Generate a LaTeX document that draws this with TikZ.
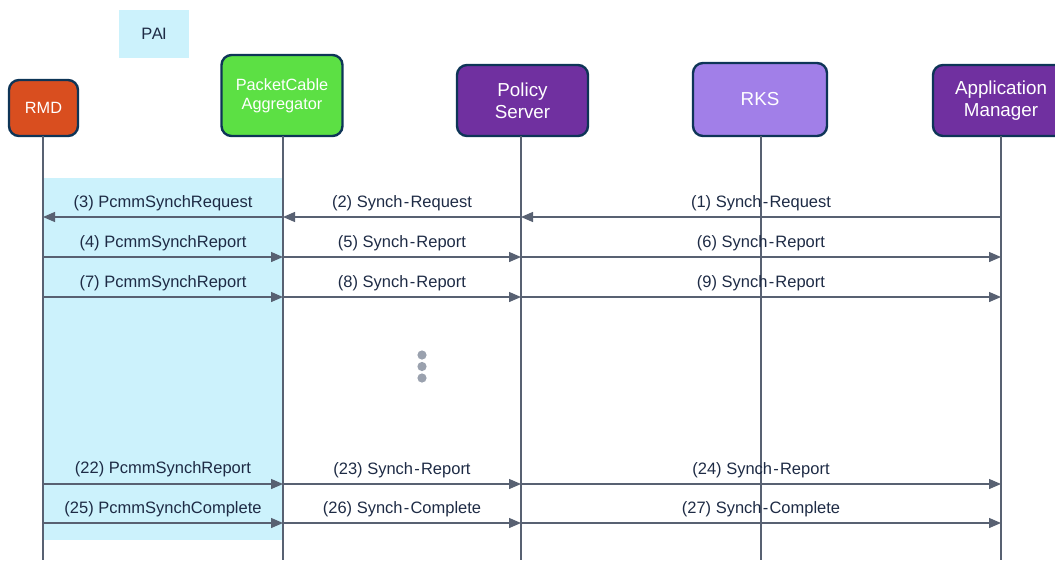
\documentclass[tikz,border=0pt]{standalone}
\usepackage{fontspec}
\setmainfont{Liberation Sans}
\usetikzlibrary{arrows.meta}
\definecolor{navy}{HTML}{0E3557}
\definecolor{txt}{HTML}{1E2B45}
\definecolor{paiblue}{HTML}{CCF2FC}
\definecolor{rmdc}{HTML}{D94E1F}
\definecolor{pcac}{HTML}{5CE044}
\definecolor{purp}{HTML}{7030A0}
\definecolor{lpurp}{HTML}{A17FE8}
\definecolor{linec}{HTML}{586172}
\definecolor{dotc}{HTML}{9AA1AE}
\newcommand{\hy}{\kern1.2pt-\kern1.2pt}
\tikzset{
  actor/.style={draw=navy, line width=2.4pt, rounded corners=10pt, text=white, align=center, inner sep=2pt},
  life/.style={draw=linec, line width=1.2pt},
  msg/.style={draw=linec, line width=1.3pt, -{Triangle[length=12pt,width=10pt]}},
  lbl/.style={text=txt, font=\fontsize{16.5}{18}\selectfont, inner sep=0pt, yshift=14pt},
}
\begin{document}
\begin{tikzpicture}[x=1pt,y=-1pt]
\useasboundingbox (0,0) rectangle (1055,560);
% shaded PAI region
\fill[paiblue] (43,178) rectangle (283,540);
\node[fill=paiblue, minimum width=70pt, minimum height=48pt, inner sep=0pt, text=txt, font=\fontsize{16.5}{18}\selectfont] (pai) at (154,34) {P\kern-0.5pt A\kern-0.8pt I};
% actors
\node[actor, fill=rmdc, minimum width=69pt, minimum height=56pt, font=\fontsize{16.3}{18}\selectfont] (rmd) at (43.5,108) {RMD};
\node[actor, fill=pcac, minimum width=121pt, minimum height=81pt, font=\fontsize{16.3}{19}\selectfont] (pca) at (282,95.5) {PacketCable\\Aggregator};
\node[actor, fill=purp, minimum width=131pt, minimum height=71pt, font=\fontsize{18.8}{22}\selectfont] (ps) at (522.5,100.5) {Policy\\Server};
\node[actor, fill=lpurp, minimum width=134pt, minimum height=73pt, font=\fontsize{18.8}{22}\selectfont] (rks) at (760,99.5) {RKS};
\node[actor, fill=purp, minimum width=136pt, minimum height=71pt, font=\fontsize{18.8}{22}\selectfont] (am) at (1001,100.5) {Application\\Manager};
% lifeline ends
\coordinate (rmdL) at (43,136);
\coordinate (pcaL) at (283,136);
\coordinate (psL) at (521,136);
\coordinate (rksL) at (761,136);
\coordinate (amL) at (1001,136);
\coordinate (bot) at (0,560);
\foreach \l in {rmdL,pcaL,psL,rksL,amL}{
  \draw[life] (\l) -- (\l |- bot);
}
% rows
\coordinate (r1) at (0,217);
\coordinate (r2) at (0,257);
\coordinate (r3) at (0,297);
\coordinate (r4) at (0,484);
\coordinate (r5) at (0,523);
% row 1
\draw[msg] (amL |- r1) -- node[lbl] {(1) Synch\hy Request} (psL |- r1);
\draw[msg] (psL |- r1) -- node[lbl] {(2) Synch\hy Request} (pcaL |- r1);
\draw[msg] (pcaL |- r1) -- node[lbl] {(3) PcmmSynchRequest} (rmdL |- r1);
% row 2
\draw[msg] (rmdL |- r2) -- node[lbl] {(4) PcmmSynchReport} (pcaL |- r2);
\draw[msg] (pcaL |- r2) -- node[lbl] {(5) Synch\hy Report} (psL |- r2);
\draw[msg] (psL |- r2) -- node[lbl] {(6) Synch\hy Report} (amL |- r2);
% row 3
\draw[msg] (rmdL |- r3) -- node[lbl] {(7) PcmmSynchReport} (pcaL |- r3);
\draw[msg] (pcaL |- r3) -- node[lbl] {(8) Synch\hy Report} (psL |- r3);
\draw[msg] (psL |- r3) -- node[lbl] {(9) Synch\hy Report} (amL |- r3);
% row 4
\draw[msg] (rmdL |- r4) -- node[lbl, yshift=1pt] {(22) PcmmSynchReport} (pcaL |- r4);
\draw[msg] (pcaL |- r4) -- node[lbl] {(23) Synch\hy Report} (psL |- r4);
\draw[msg] (psL |- r4) -- node[lbl] {(24) Synch\hy Report} (amL |- r4);
% row 5
\draw[msg] (rmdL |- r5) -- node[lbl] {(25) PcmmSynchComplete} (pcaL |- r5);
\draw[msg] (pcaL |- r5) -- node[lbl] {(26) Synch\hy Complete} (psL |- r5);
\draw[msg] (psL |- r5) -- node[lbl] {(27) Synch\hy Complete} (amL |- r5);
% ellipsis dots
\foreach \yy in {355,366.5,378}{
  \fill[dotc] (422,\yy) circle (4.6pt);
}
\end{tikzpicture}
\end{document}
